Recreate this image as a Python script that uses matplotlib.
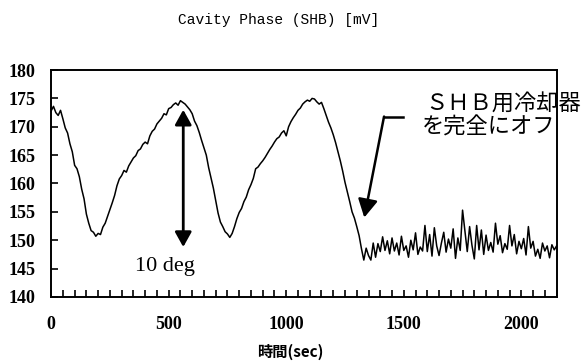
import numpy as np
import matplotlib
matplotlib.use("Agg")
import matplotlib.pyplot as plt
from matplotlib.ticker import MultipleLocator

# 10 s sampling, 0 .. 2150 s
t_step = 10
phase = [
    172.8, 173.6, 172.5, 172.0, 172.9, 171.4, 169.8, 168.9, 167.0, 165.6,
    163.2, 162.6, 161.2, 159.0, 157.3, 154.6, 153.0, 151.7, 151.4, 150.7,
    151.2, 151.0, 152.3, 153.0, 154.2, 155.4, 156.6, 157.9, 159.6, 160.8,
    161.4, 162.3, 162.0, 163.1, 163.8, 164.5, 164.9, 165.8, 166.1, 166.9,
    167.3, 167.0, 168.4, 169.2, 169.6, 170.5, 171.0, 171.5, 172.3, 172.1,
    173.2, 173.4, 173.9, 174.2, 173.8, 174.6, 174.3, 174.0, 173.5, 173.0,
    172.3, 171.0, 170.2, 169.0, 167.6, 166.3, 165.0, 162.8, 161.0, 159.2,
    157.0, 154.8, 153.2, 152.4, 151.5, 151.1, 150.5, 151.2, 152.4, 153.8,
    154.9, 155.6, 156.8, 157.6, 158.9, 159.8, 160.9, 162.6, 162.9, 163.5,
    164.0, 164.6, 165.3, 166.0, 166.6, 167.3, 167.9, 168.2, 168.9, 169.3,
    168.4, 170.0, 170.9, 171.6, 172.2, 172.9, 173.3, 174.0, 174.4, 174.7,
    174.5, 175.0, 174.9, 174.4, 174.0, 174.3, 173.2, 172.0, 170.8, 169.8,
    168.6, 167.2, 165.6, 164.0, 162.2, 160.2, 158.5, 156.8, 155.0, 153.9,
    152.4, 150.8, 148.5, 146.5, 148.6, 147.3, 146.5, 149.5, 147.0, 149.4,
    148.0, 150.6, 148.2, 149.9, 147.6, 150.4, 148.1, 149.5, 147.4, 150.7,
    148.2, 149.0, 147.0, 150.0, 148.3, 151.3, 147.5, 148.8, 148.1, 152.6,
    148.0, 151.0, 147.2, 152.2, 149.0, 147.3, 149.5, 151.4, 147.9, 150.2,
    148.6, 152.0, 146.8, 150.4, 148.2, 155.3, 151.6, 148.0, 152.4, 149.1,
    146.7, 152.6, 148.3, 151.8, 147.5, 150.9, 148.2, 149.6, 147.9, 153.0,
    149.3, 150.8, 147.8, 149.4, 148.4, 152.6, 149.0, 151.0, 147.6, 149.8,
    148.5, 150.3, 147.4, 152.4, 148.6, 149.8, 147.2, 148.4, 146.8, 149.5,
    148.1, 149.0, 146.9, 149.2, 148.3, 149.0,
]
t = np.arange(len(phase)) * t_step

jp = ["Noto Sans CJK JP", "DejaVu Sans"]

fig = plt.figure(figsize=(5.81, 3.63), dpi=100)
ax = fig.add_axes([0.088, 0.182, 0.870, 0.625])
ax.plot(t, phase, color="black", lw=1.1)

ax.set_xlim(0, 2150)
ax.set_ylim(140, 180)
ax.xaxis.set_major_locator(MultipleLocator(500))
ax.xaxis.set_minor_locator(MultipleLocator(50))
ax.yaxis.set_major_locator(MultipleLocator(5))
ax.tick_params(axis="x", which="both", direction="in", length=5, width=1.2, pad=14)
ax.tick_params(axis="y", direction="in", length=5, width=1.2, pad=11)
for lab in ax.get_xticklabels() + ax.get_yticklabels():
    lab.set_family("Liberation Serif")
    lab.set_fontweight("bold")
    lab.set_fontsize(13)
for s in ax.spines.values():
    s.set_linewidth(1.4)

fig.text(0.480, 0.945, "Cavity Phase (SHB) [mV]", ha="center", va="center",
         family="Liberation Mono", fontsize=10.5)
fig.text(0.5, 0.032, "時間(sec)", ha="center", va="center", family=jp,
         fontweight="bold", fontsize=11)

# 10 deg double arrow
ax.annotate("", xy=(562, 173.0), xytext=(562, 148.8),
            arrowprops=dict(arrowstyle="<|-|>,head_length=0.9,head_width=0.5",
                            color="black", lw=2.0, shrinkA=0, shrinkB=0))
ax.text(355, 145.3, "10 deg", family="Liberation Serif", fontsize=16,
        va="center", ha="left")

# cooler-off arrow
ax.plot([1497, 1416], [171.8, 171.8], color="black", lw=1.8)
ax.annotate("", xy=(1332, 154.0), xytext=(1416, 171.8),
            arrowprops=dict(arrowstyle="-|>,head_length=1.1,head_width=0.6",
                            color="black", lw=1.8, shrinkA=0, shrinkB=0))
ax.text(1592, 173.9, "ＳＨＢ用冷却器", family=jp, fontsize=16,
        va="center", ha="left", clip_on=False)
ax.text(1575, 170.0, "を完全にオフ", family=jp, fontsize=16,
        va="center", ha="left", clip_on=False)

fig.savefig("out.png", dpi=100)
